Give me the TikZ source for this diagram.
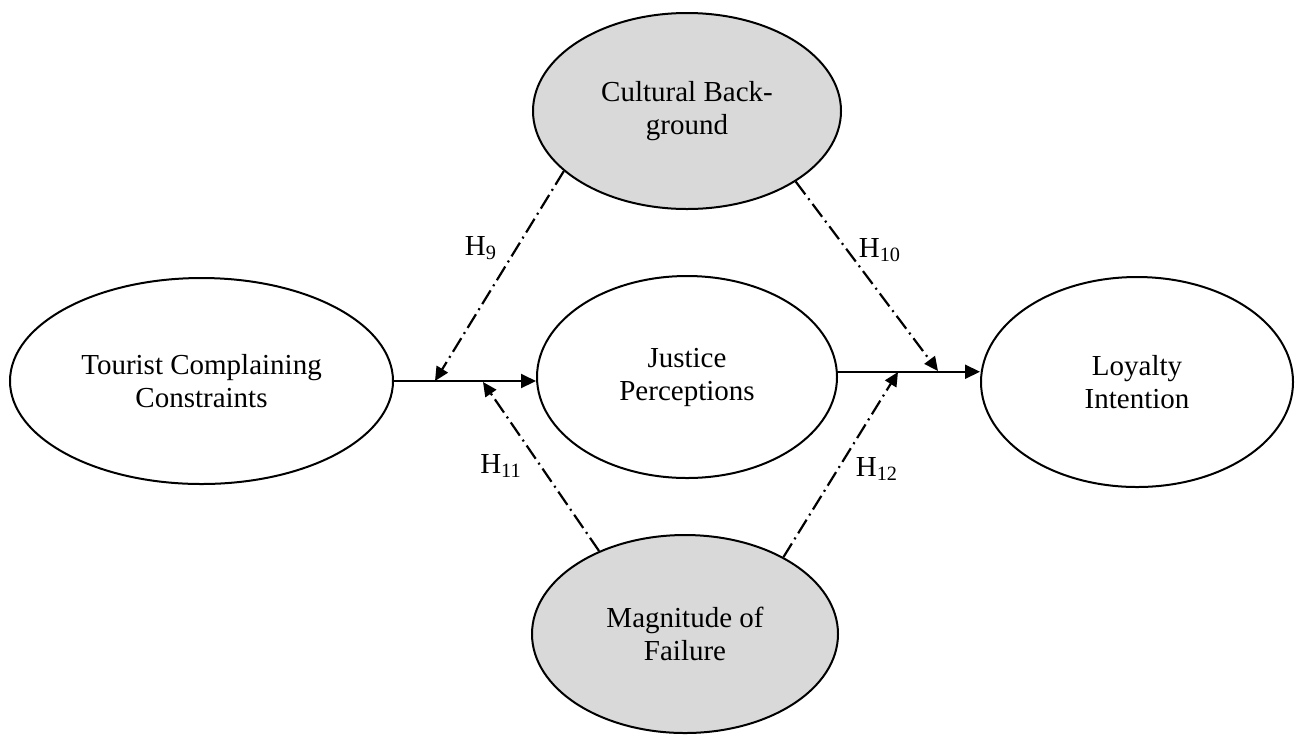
\documentclass[tikz,border=0pt]{standalone}
\usepackage{fontspec}
\setmainfont{Liberation Serif}
\usetikzlibrary{shapes.geometric,arrows.meta}
\definecolor{modfill}{RGB}{217,217,217}
\begin{document}
\begin{tikzpicture}[x=0.5pt,y=-0.5pt,
  construct/.style={ellipse,draw,line width=1pt,inner sep=0pt,align=center,
    font=\fontsize{14.5}{16.5}\selectfont},
  moderator/.style={construct,fill=modfill},
  mainpath/.style={line width=1pt,-{Triangle[length=7.5pt,width=7pt]}},
  modpath/.style={line width=1.1pt,dash pattern=on 8pt off 2.5pt on 1pt off 2.5pt,
    -{Triangle[length=7pt,width=6.5pt]}},
  hyp/.style={font=\fontsize{14.5}{16.5}\selectfont,inner sep=0pt}]
\useasboundingbox (0,0) rectangle (1299,735);

% latent constructs
\node[construct,minimum width=191.5pt,minimum height=103pt] (tcc) at (201.5,381)
  {Tourist Complaining\\Constraints};
\node[construct,minimum width=150pt,minimum height=101pt] (jp) at (687,377)
  {Justice\\Perceptions};
\node[construct,minimum width=156pt,minimum height=105pt] (li) at (1137,382)
  {Loyalty\\Intention};
\node[moderator,minimum width=154pt,minimum height=98pt] (cb) at (687,111)
  {Cultural Back-\\ground};
\node[moderator,minimum width=153pt,minimum height=99pt] (mf) at (685,634)
  {Magnitude of\\Failure};

% main paths
\draw[mainpath] (tcc.east) -- (tcc.east -| jp.west);
\draw[mainpath] (jp.2) -- (jp.2 -| li.west);

% points where the moderating effects meet the main paths
\coordinate (t9)  at (435,381);
\coordinate (t11) at (483,382);
\coordinate (t10) at (938,371);
\coordinate (t12) at (898,372);

% moderating effects
\draw[modpath] (cb.206) -- (t9);
\draw[modpath] (cb.327) -- (t10);
\draw[modpath] (mf.136) -- (t11);
\draw[modpath] (mf.38) -- (t12);

% hypothesis labels
\node[hyp] (h9)  at (481,248) {H\textsubscript{9}};
\node[hyp] (h10) at (880,250) {H\textsubscript{10}};
\node[hyp] (h11) at (501,466) {H\textsubscript{11}};
\node[hyp] (h12) at (877,469) {H\textsubscript{12}};
\end{tikzpicture}
\end{document}
